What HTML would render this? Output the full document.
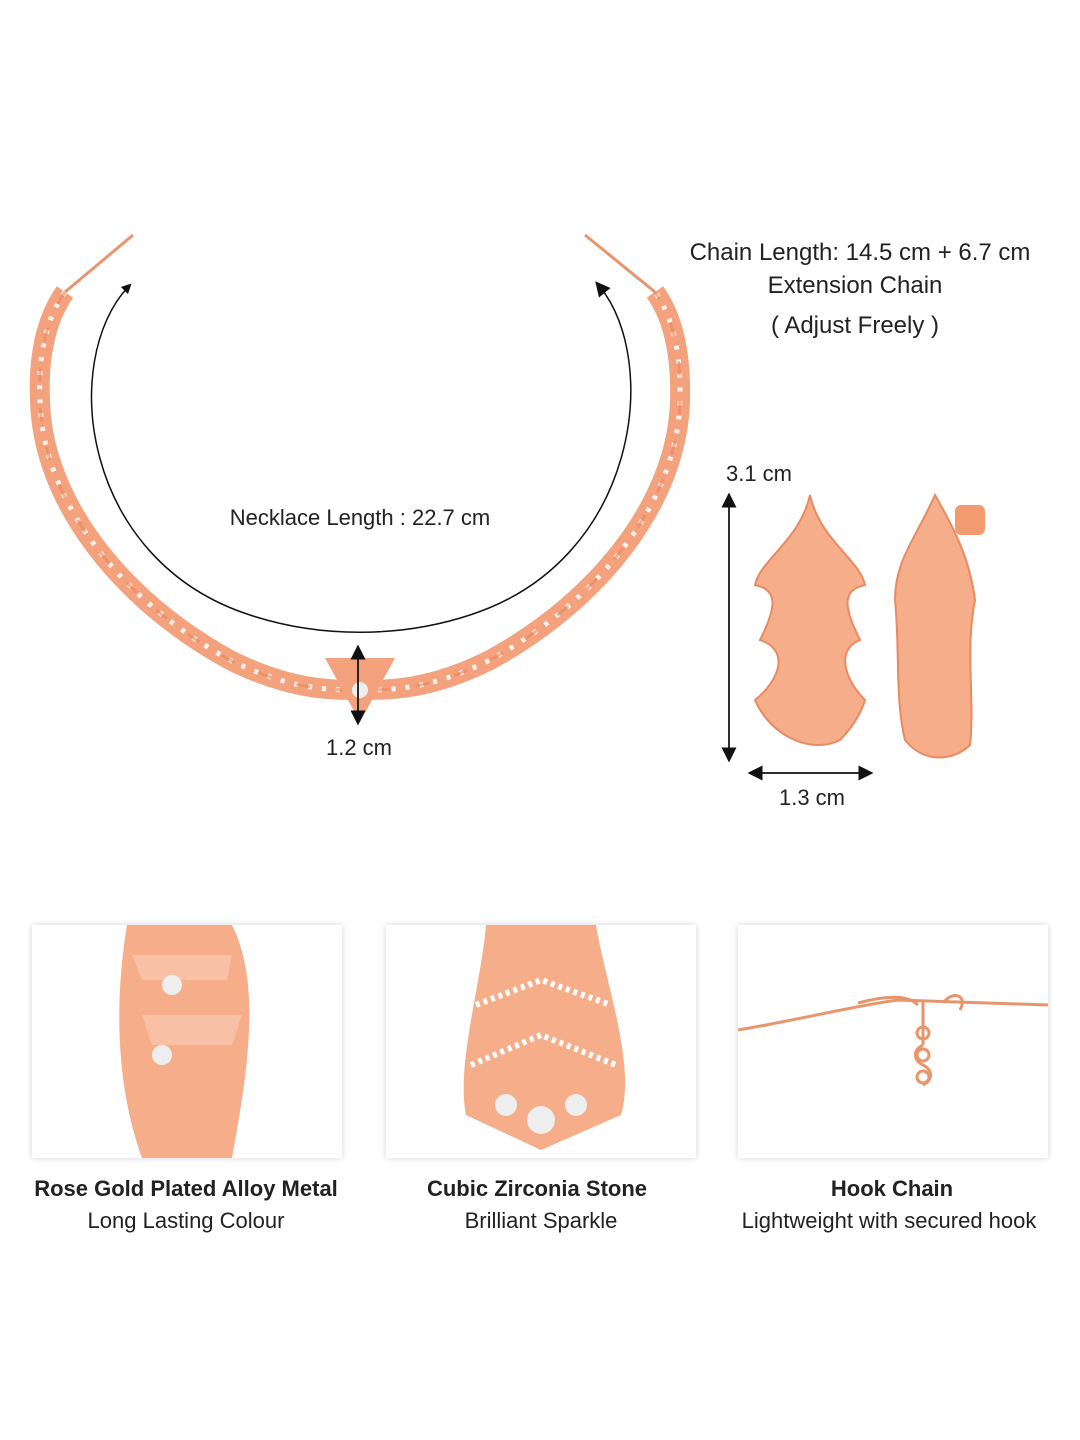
<!DOCTYPE html>
<html><head><meta charset="utf-8"><style>
html,body{margin:0;padding:0;background:#fff;}
body{width:1080px;height:1440px;position:relative;overflow:hidden;font-family:"Liberation Sans",sans-serif;color:#222;}
.t{position:absolute;white-space:nowrap;transform:translateX(-50%);font-size:23px;font-weight:400;}
.card{position:absolute;top:925px;width:310px;height:233px;background:#fff;box-shadow:0 0 6px rgba(0,0,0,0.18);overflow:hidden;}
.b{font-weight:bold;font-size:22px;}
</style></head><body>
<svg width="1080" height="1440" style="position:absolute;left:0;top:0">
<defs>
<marker id="ah" markerWidth="10" markerHeight="10" refX="5" refY="5" orient="auto"><path d="M0,0 L10,5 L0,10 z" fill="#111"/></marker>
</defs>
<path d="M133,235 L65,292" stroke="#e8956c" stroke-width="3" fill="none"/>
<path d="M585,235 L655,292" stroke="#e8956c" stroke-width="3" fill="none"/>
<path d="M65,292 C45,320 38,360 40,400 C42,500 120,600 230,660 C290,690 330,690 360,690 C390,690 430,690 490,660 C600,600 678,500 680,400 C681,360 675,320 655,292" fill="none" stroke="#f4a27e" stroke-width="20"/>
<path d="M65,292 C45,320 38,360 40,400 C42,500 120,600 230,660 C290,690 330,690 360,690 C390,690 430,690 490,660 C600,600 678,500 680,400 C681,360 675,320 655,292" fill="none" stroke="#fff" stroke-width="5" stroke-dasharray="4 10" opacity="0.85"/>
<path d="M65,292 C45,320 38,360 40,400 C42,500 120,600 230,660 C290,690 330,690 360,690 C390,690 430,690 490,660 C600,600 678,500 680,400 C681,360 675,320 655,292" fill="none" stroke="#e8855a" stroke-width="3" stroke-dasharray="14 26" opacity="0.6"/>
<path d="M325,658 L395,658 L360,722 z" fill="#f4a27e"/>
<circle cx="360" cy="690" r="8" fill="#eee"/>
<path d="M128,287 C60,360 80,560 250,615 C320,638 400,638 470,615 C640,560 660,360 600,287" fill="none" stroke="#111" stroke-width="1.5" marker-end="url(#ah)"/>
<path d="M122,293 L128,287" fill="none" stroke="none" marker-end="url(#ah)"/>
<line x1="358" y1="652" x2="358" y2="718" stroke="#111" stroke-width="1.5" marker-end="url(#ah)"/>
<line x1="358" y1="718" x2="358" y2="652" stroke="#111" stroke-width="1.5" marker-end="url(#ah)"/>
<path d="M810,495 C800,540 760,560 755,585 C780,590 775,610 760,640 C790,650 780,680 755,700 C770,735 810,755 840,740 C860,720 865,700 865,700 C845,680 835,650 860,640 C845,610 840,590 865,585 C860,560 820,540 810,495 z" fill="#f6ad8a" stroke="#e98a62" stroke-width="2"/>
<path d="M935,495 C915,540 895,560 895,600 C900,650 895,700 905,740 C925,765 955,760 970,745 C975,700 965,650 975,600 C970,560 955,530 935,495 z" fill="#f6ad8a" stroke="#e98a62" stroke-width="2"/>
<rect x="955" y="505" width="30" height="30" rx="6" fill="#f29b70"/>
<line x1="729" y1="500" x2="729" y2="755" stroke="#111" stroke-width="1.5" marker-end="url(#ah)"/>
<line x1="729" y1="755" x2="729" y2="500" stroke="#111" stroke-width="1.5" marker-end="url(#ah)"/>
<line x1="755" y1="773" x2="866" y2="773" stroke="#111" stroke-width="1.5" marker-end="url(#ah)"/>
<line x1="866" y1="773" x2="755" y2="773" stroke="#111" stroke-width="1.5" marker-end="url(#ah)"/>
</svg>
<div class="t" style="left:860px;top:239px;font-size:24px">Chain Length: 14.5 cm + 6.7 cm</div>
<div class="t" style="left:855px;top:272px;font-size:24px">Extension Chain</div>
<div class="t" style="left:855px;top:312px;font-size:24px">( Adjust Freely )</div>
<div class="t" style="left:360px;top:505px;font-size:22px">Necklace Length : 22.7 cm</div>
<div class="t" style="left:359px;top:735px;font-size:22px">1.2 cm</div>
<div class="t" style="left:759px;top:461px;font-size:22px">3.1 cm</div>
<div class="t" style="left:812px;top:785px;font-size:22px">1.3 cm</div>

<div class="card" style="left:32px"><svg width="310" height="233"><path d="M95,0 L200,0 C230,60 215,150 200,233 L110,233 C80,150 85,60 95,0z" fill="#f6ad8a"/><path d="M110,90 L210,90 L200,120 L120,120z M100,30 L200,30 L195,55 L110,55z" fill="#f8c0a4"/><circle cx="140" cy="60" r="10" fill="#eee"/><circle cx="130" cy="130" r="10" fill="#eee"/></svg></div>
<div class="card" style="left:386px"><svg width="310" height="233"><path d="M100,0 L210,0 C220,60 250,140 235,190 L155,225 L80,190 C70,140 95,60 100,0z" fill="#f6ad8a"/><path d="M90,80 L155,55 L225,80 M85,140 L155,110 L230,140" stroke="#fff" stroke-width="6" fill="none" stroke-dasharray="4 4"/><circle cx="155" cy="195" r="14" fill="#eee"/><circle cx="120" cy="180" r="11" fill="#eee"/><circle cx="190" cy="180" r="11" fill="#eee"/></svg></div>
<div class="card" style="left:738px"><svg width="310" height="233"><path d="M0,105 C60,95 120,80 160,75 L310,80" fill="none" stroke="#e8956c" stroke-width="3"/><path d="M120,78 C150,70 170,70 180,80 M185,75 L185,120 M185,120 C175,125 175,135 185,140 C195,145 195,155 185,160" fill="none" stroke="#e8956c" stroke-width="3"/><circle cx="185" cy="108" r="6" fill="none" stroke="#e8956c" stroke-width="3"/><circle cx="185" cy="130" r="6" fill="none" stroke="#e8956c" stroke-width="3"/><circle cx="185" cy="152" r="6" fill="none" stroke="#e8956c" stroke-width="3"/><path d="M205,78 C215,65 230,70 222,85" fill="none" stroke="#e8956c" stroke-width="3"/></svg></div>

<div class="t b" style="left:186px;top:1176px">Rose Gold Plated Alloy Metal</div>
<div class="t" style="left:186px;top:1208px;font-size:22px">Long Lasting Colour</div>
<div class="t b" style="left:537px;top:1176px">Cubic Zirconia Stone</div>
<div class="t" style="left:541px;top:1208px;font-size:22px">Brilliant Sparkle</div>
<div class="t b" style="left:892px;top:1176px">Hook Chain</div>
<div class="t" style="left:889px;top:1208px;font-size:22px">Lightweight with secured hook</div>
</body></html>
